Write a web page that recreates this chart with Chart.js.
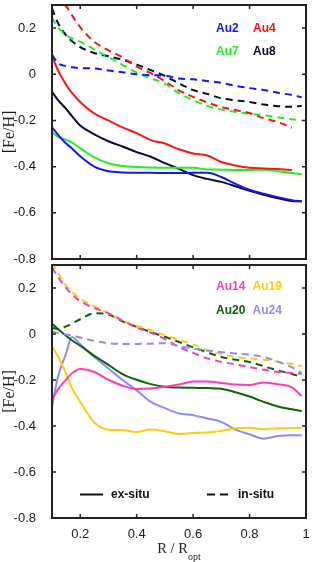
<!DOCTYPE html>
<html lang="en">
<head>
<meta charset="UTF-8">
<title>[Fe/H] radial profiles</title>
<script src="https://cdn.jsdelivr.net/npm/chart.js"></script>
<style>
  html, body { margin:0; padding:0; background:#fff; }
  .wrap { position:relative; width:316px; height:562px; }
  .panel { position:absolute; left:0; width:316px; }
  #top { top:0; height:265px; }
  #bottom { top:260px; height:302px; }
</style>
</head>
<body>
<div class="wrap">
  <div class="panel" id="top"><canvas id="chartTop"></canvas></div>
  <div class="panel" id="bottom"><canvas id="chartBottom"></canvas></div>
</div>
<script>
// radius grid shared by every curve (R / R_opt)
const R = [0.10,0.12,0.15,0.17,0.20,0.25,0.30,0.35,0.40,0.45,0.50,0.55,0.60,0.65,0.70,0.75,0.80,0.85,0.90,0.95,0.985];
const xTicks = [0.2,0.4,0.6,0.8,1];
const yTicks = [-0.8,-0.6,-0.4,-0.2,0,0.2];

// top panel: ex-situ (solid) / in-situ (dashed)
const au2Ex = [-0.23,-0.26,-0.30,-0.32,-0.355,-0.40,-0.42,-0.425,-0.427,-0.427,-0.428,-0.428,-0.427,-0.427,-0.445,-0.475,-0.50,-0.517,-0.532,-0.545,-0.55];
const au4Ex = [0.08,0.02,-0.045,-0.08,-0.12,-0.17,-0.20,-0.23,-0.255,-0.285,-0.30,-0.325,-0.343,-0.352,-0.38,-0.395,-0.405,-0.408,-0.41,-0.415,null];
const au7Ex = [-0.25,-0.27,-0.285,-0.295,-0.32,-0.36,-0.385,-0.397,-0.402,-0.404,-0.405,-0.405,-0.405,-0.412,-0.413,-0.415,-0.415,-0.413,-0.42,-0.428,-0.432];
const au8Ex = [-0.075,-0.11,-0.15,-0.18,-0.222,-0.26,-0.29,-0.313,-0.337,-0.357,-0.385,-0.41,-0.437,-0.453,-0.466,-0.485,-0.505,-0.522,-0.537,-0.549,-0.55];
const au2In = [0.085,0.05,0.035,0.03,0.027,0.025,0.016,0.009,0.0,-0.004,-0.006,-0.018,-0.022,-0.029,-0.037,-0.05,-0.06,-0.068,-0.08,-0.09,-0.1];
const au4In = [0.39,0.35,0.295,0.257,0.204,0.14,0.104,0.073,0.033,0.005,-0.03,-0.07,-0.098,-0.122,-0.142,-0.155,-0.168,-0.19,-0.207,-0.232,null];
const au7In = [0.245,0.205,0.17,0.155,0.141,0.108,0.075,0.041,0.007,-0.017,-0.041,-0.082,-0.112,-0.137,-0.153,-0.163,-0.171,-0.177,-0.186,-0.195,-0.2];
const au8In = [0.285,0.225,0.168,0.144,0.118,0.092,0.078,0.063,0.042,0.018,-0.007,-0.04,-0.068,-0.085,-0.104,-0.113,-0.12,-0.131,-0.138,-0.141,-0.136];

// bottom panel
const au14Ex = [-0.285,-0.243,-0.198,-0.172,-0.152,-0.165,-0.199,-0.225,-0.239,-0.237,-0.229,-0.22,-0.207,-0.206,-0.213,-0.22,-0.222,-0.211,-0.218,-0.232,-0.27];
const au19Ex = [-0.052,-0.096,-0.172,-0.234,-0.295,-0.385,-0.416,-0.418,-0.426,-0.415,-0.423,-0.435,-0.43,-0.428,-0.422,-0.41,-0.408,-0.413,-0.41,-0.409,-0.408];
const au20Ex = [0.045,0.023,-0.008,-0.027,-0.051,-0.095,-0.134,-0.174,-0.199,-0.218,-0.229,-0.233,-0.234,-0.235,-0.238,-0.253,-0.272,-0.295,-0.315,-0.327,-0.335];
const au24Ex = [-0.32,-0.19,-0.085,-0.013,-0.045,-0.1,-0.15,-0.2,-0.245,-0.295,-0.322,-0.345,-0.353,-0.367,-0.382,-0.416,-0.436,-0.455,-0.443,-0.44,-0.44];
const au14In = [0.29,0.25,0.201,0.172,0.143,0.113,0.09,0.058,0.028,0.006,-0.022,-0.056,-0.082,-0.106,-0.121,-0.132,-0.144,-0.155,-0.165,-0.17,-0.173];
const au19In = [0.31,0.27,0.21,0.185,0.153,0.121,0.092,0.059,0.036,0.017,-0.005,-0.025,-0.045,-0.07,-0.088,-0.1,-0.106,-0.112,-0.12,-0.13,-0.14];
const au20In = [0.027,0.022,0.033,0.045,0.064,0.09,0.085,0.055,0.031,0.008,-0.012,-0.035,-0.058,-0.08,-0.1,-0.112,-0.122,-0.14,-0.158,-0.174,-0.186];
const au24In = [0.01,0.005,-0.002,-0.006,-0.015,-0.03,-0.04,-0.043,-0.043,-0.042,-0.04,-0.053,-0.063,-0.072,-0.079,-0.085,-0.09,-0.1,-0.12,-0.145,-0.168];

Chart.defaults.font.family = '"Liberation Sans", Arial, sans-serif';
Chart.defaults.color = '#1a1a1a';

function pts(vals) {
    return R.map((r, i) => ({x: r, y: vals[i]})).filter(p => p.y !== null);
}
function line(vals, color, dashed) {
    return {
        data: pts(vals),
        borderColor: color,
        borderWidth: 2,
        borderDash: dashed ? [7, 5] : [],
        pointRadius: 0,
        fill: false,
        cubicInterpolationMode: 'monotone'
    };
}

// frame with inward ticks + panel labels
const framePlugin = {
    id: 'frame',
    afterDraw(chart, args, opts) {
        const ctx = chart.ctx, a = chart.chartArea, sx = chart.scales.x, sy = chart.scales.y;
        ctx.save();
        ctx.strokeStyle = '#222';
        ctx.lineWidth = 1.5;
        ctx.beginPath();
        sx.ticks.forEach(t => {
            const p = sx.getPixelForValue(t.value);
            ctx.moveTo(p, a.bottom); ctx.lineTo(p, a.bottom - 4);
            ctx.moveTo(p, a.top); ctx.lineTo(p, a.top + 4);
        });
        sy.ticks.forEach(t => {
            const p = sy.getPixelForValue(t.value);
            ctx.moveTo(a.left, p); ctx.lineTo(a.left + 4, p);
            ctx.moveTo(a.right, p); ctx.lineTo(a.right - 4, p);
        });
        ctx.stroke();
        ctx.lineWidth = 2;
        ctx.strokeRect(a.left, a.top, a.right - a.left, a.bottom - a.top);

        ctx.font = 'bold 12px "Liberation Sans", Arial, sans-serif';
        ctx.textBaseline = 'middle';
        ctx.textAlign = 'left';
        (opts.labels || []).forEach(l => {
            ctx.fillStyle = l.color;
            ctx.fillText(l.text, a.left + l.dx, a.top + l.dy);
        });

        if (opts.styleKey) {
            const y = a.top + 229.5;
            ctx.strokeStyle = '#111';
            ctx.lineWidth = 2;
            ctx.beginPath(); ctx.moveTo(a.left + 28, y); ctx.lineTo(a.left + 51, y); ctx.stroke();
            ctx.setLineDash([8, 5]);
            ctx.beginPath(); ctx.moveTo(a.left + 155, y); ctx.lineTo(a.left + 176, y); ctx.stroke();
            ctx.setLineDash([]);
            ctx.fillStyle = '#111';
            ctx.fillText('ex-situ', a.left + 59, y);
            ctx.fillText('in-situ', a.left + 186, y);
        }

        if (opts.xTitle) {
            ctx.fillStyle = '#222';
            ctx.textBaseline = 'alphabetic';
            const main = 'R / R', sub = 'opt';
            ctx.font = '14.5px "Liberation Serif", "Times New Roman", serif';
            const w1 = ctx.measureText(main).width;
            ctx.font = '10px "Liberation Serif", "Times New Roman", serif';
            const w2 = ctx.measureText(sub).width;
            const x0 = (a.left + a.right) / 2 - (w1 + w2) / 2;
            ctx.font = '14.5px "Liberation Serif", "Times New Roman", serif';
            ctx.fillText(main, x0, a.bottom + 35);
            ctx.font = '10px "Liberation Serif", "Times New Roman", serif';
            ctx.fillText(sub, x0 + w1, a.bottom + 42);
        }
        ctx.restore();
    }
};

function makeOptions(showX, xHeight, frameOpts) {
    return {
        responsive: true,
        maintainAspectRatio: false,
        animation: false,
        events: [],
        layout: { padding: { left: 0, right: 10, top: 5, bottom: 0 } },
        plugins: { legend: { display: false }, tooltip: { enabled: false }, frame: frameOpts },
        scales: {
            x: {
                type: 'linear', min: 0.1, max: 1,
                grid: { display: false },
                border: { display: false },
                afterBuildTicks: s => { s.ticks = xTicks.map(v => ({value: v})); },
                afterFit: s => { s.height = xHeight; s.paddingLeft = 0; s.paddingRight = 0; },
                ticks: {
                    display: showX, padding: 1,
                    font: { size: 13 },
                    callback: v => String(Math.round(v * 10) / 10)
                }
            },
            y: {
                min: -0.8, max: 0.3,
                grid: { display: false },
                border: { display: false },
                afterBuildTicks: s => { s.ticks = yTicks.map(v => ({value: v})); },
                afterFit: s => { s.width = 52; s.paddingTop = 0; s.paddingBottom = 0; },
                ticks: {
                    padding: 8,
                    font: { size: 13 },
                    callback: v => String(Math.round(v * 10) / 10)
                },
                title: {
                    display: true, text: '[Fe/H]', padding: 0,
                    font: { family: '"Liberation Serif", "Times New Roman", serif', size: 16 }
                }
            }
        }
    };
}

new Chart('chartTop', {
    type: 'line',
    data: {
        datasets: [
            line(au2In, '#1414ff', true),
            line(au4In, '#ff1414', true),
            line(au7In, '#22ee22', true),
            line(au8In, '#0a0a30', true),
            line(au2Ex, '#1414ff', false),
            line(au4Ex, '#ff1414', false),
            line(au7Ex, '#22ee22', false),
            line(au8Ex, '#0a0a30', false)
        ]
    },
    options: makeOptions(false, 6, {
        labels: [
            {text: 'Au2', color: '#1414ff', dx: 164, dy: 23.3},
            {text: 'Au4', color: '#ff1414', dx: 201, dy: 23.3},
            {text: 'Au7', color: '#22ee22', dx: 164, dy: 46.7},
            {text: 'Au8', color: '#0a0a30', dx: 201, dy: 46.7}
        ]
    }),
    plugins: [framePlugin]
});

new Chart('chartBottom', {
    type: 'line',
    data: {
        datasets: [
            line(au24In, '#8c8cff', true),
            line(au14In, '#ff3cb4', true),
            line(au19In, '#ffcc11', true),
            line(au20In, '#0a640a', true),
            line(au14Ex, '#ff3cb4', false),
            line(au19Ex, '#ffcc11', false),
            line(au20Ex, '#0a640a', false),
            line(au24Ex, '#8c8cff', false)
        ]
    },
    options: makeOptions(true, 44, {
        labels: [
            {text: 'Au14', color: '#ff3cb4', dx: 164, dy: 21.7},
            {text: 'Au19', color: '#ffcc11', dx: 200.5, dy: 21.7},
            {text: 'Au20', color: '#0a640a', dx: 164, dy: 45.5},
            {text: 'Au24', color: '#8c8cff', dx: 200.5, dy: 45.5}
        ],
        styleKey: true,
        xTitle: true
    }),
    plugins: [framePlugin]
});
</script>
</body>
</html>
